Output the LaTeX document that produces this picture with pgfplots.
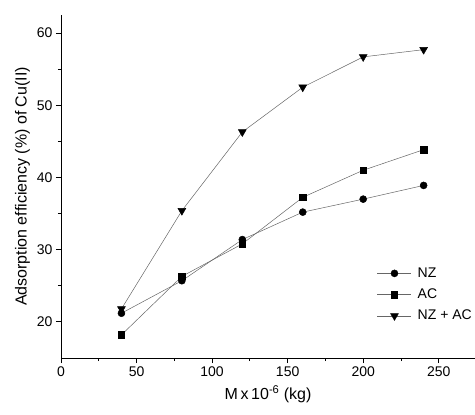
\documentclass[border=0pt]{standalone}
\usepackage{fontspec}
\setmainfont{Liberation Sans}
\usepackage{pgfplots}
\pgfplotsset{compat=1.18}
\begin{document}
\begin{tikzpicture}
\begin{axis}[
 scale only axis, width=414pt, height=343pt,
 xmin=0, xmax=274, ymin=15, ymax=62.5,
 axis x line*=bottom, axis y line*=left,
 axis line style={line width=0.8pt, black},
 xtick={0,50,...,250}, ytick={20,30,...,60},
 minor x tick num=1, minor y tick num=1,
 tick align=outside,
 major tick length=5pt, minor tick length=3pt,
 tick style={line width=0.8pt, black},
 ticklabel style={font=\fontsize{14}{14}\selectfont},
 /pgf/number format/assume math mode=true,
 xlabel={M\,x\,10\textsuperscript{-6} (kg)},
 ylabel={Adsorption efficiency (\%) of Cu(II)},
 label style={font=\fontsize{16}{16}\selectfont},
 xlabel style={yshift=-2pt},
 ylabel style={yshift=0pt},
 legend style={draw=none, fill=none, at={(1,0.10)}, anchor=south east, xshift=-1pt,
   font=\fontsize{14}{14}\selectfont, row sep=6pt, inner sep=0pt},
 legend cell align=left,
 legend image code/.code={\draw[mark repeat=2,mark phase=2] plot coordinates {(0pt,0pt) (17pt,0pt) (34pt,0pt)}; \path (38pt,0pt);},
 every axis plot/.append style={line width=0.5pt, draw=black!60},
]
\addplot[mark=*, mark size=3.5pt, mark options={fill=black, draw=black}] coordinates {
 (40,21.2) (80,25.7) (120,31.4) (160,35.2) (200,37.0) (240,38.9)};
\addlegendentry{NZ}
\addplot[mark=square*, mark size=3.2pt, mark options={fill=black, draw=black}] coordinates {
 (40,18.2) (80,26.3) (120,30.8) (160,37.25) (200,41.0) (240,43.85)};
\addlegendentry{AC}
\addplot[mark=triangle*, mark size=4.5pt, mark options={fill=black, draw=black, rotate=180}] coordinates {
 (40,21.8) (80,35.4) (120,46.3) (160,52.5) (200,56.7) (240,57.7)};
\addlegendentry{NZ + AC}
\end{axis}
\pgfresetboundingbox
\path[use as bounding box] ([xshift=-61pt,yshift=-56pt]current axis.south west) rectangle ([yshift=15pt]current axis.north east);
\end{tikzpicture}
\end{document}
